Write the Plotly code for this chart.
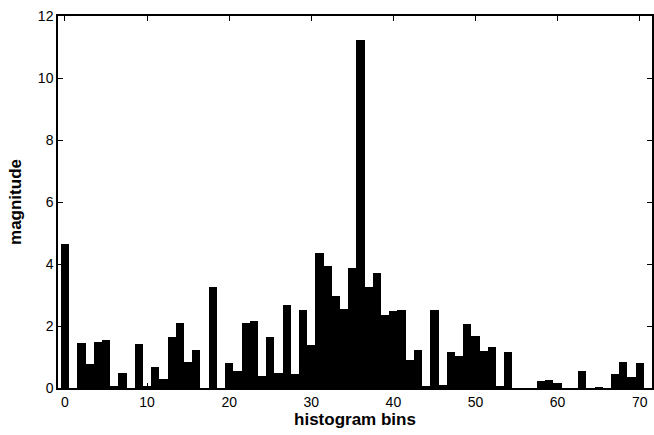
import plotly.graph_objects as go

bins = list(range(71))
magnitude = [4.66, 0, 1.45, 0.79, 1.47, 1.54, 0.08, 0.49, 0, 1.41,
             0.08, 0.68, 0.28, 1.65, 2.11, 0.84, 1.22, 0, 3.26, 0,
             0.81, 0.54, 2.11, 2.17, 0.38, 1.65, 0.49, 2.67, 0.44, 2.51,
             1.38, 4.35, 3.95, 2.97, 2.55, 3.88, 11.24, 3.26, 3.71, 2.35,
             2.50, 2.53, 0.91, 1.24, 0.05, 2.53, 0.10, 1.17, 1.03, 2.06,
             1.68, 1.20, 1.32, 0.06, 1.16, 0, 0, 0, 0.23, 0.26,
             0.15, 0, 0, 0.56, 0, 0.03, 0, 0.44, 0.85, 0.37,
             0.82]
x_ticks = [0, 10, 20, 30, 40, 50, 60, 70]
y_ticks = [0, 2, 4, 6, 8, 10, 12]

fig = go.Figure(go.Bar(x=bins, y=magnitude, width=1.0,
                       marker=dict(color="black", line=dict(width=0))))

font_family = "Liberation Sans, Arial, sans-serif"
fig.update_layout(
    width=654, height=435,
    margin=dict(l=58, r=0, t=16, b=47),
    plot_bgcolor="white", paper_bgcolor="white",
    showlegend=False, bargap=0,
    font=dict(family=font_family, size=14, color="black"),
)
fig.update_xaxes(range=[-0.85, 71.5], tickvals=x_ticks, ticks="inside", ticklen=5,
                 tickwidth=1, tickcolor="black", showline=True, linecolor="black",
                 linewidth=1.5, mirror="ticks", showgrid=False, zeroline=False,
                 title=dict(text="histogram bins", standoff=5,
                            font=dict(size=17, weight="bold", family=font_family)))
fig.update_yaxes(range=[0, 12], tickvals=y_ticks, ticks="inside", ticklen=5,
                 tickwidth=1, tickcolor="black", showline=True, linecolor="black",
                 linewidth=1.5, mirror="ticks", showgrid=False, zeroline=False,
                 title=dict(text="magnitude", standoff=12,
                            font=dict(size=17, weight="bold", family=font_family)))

fig.write_html("out.html")
